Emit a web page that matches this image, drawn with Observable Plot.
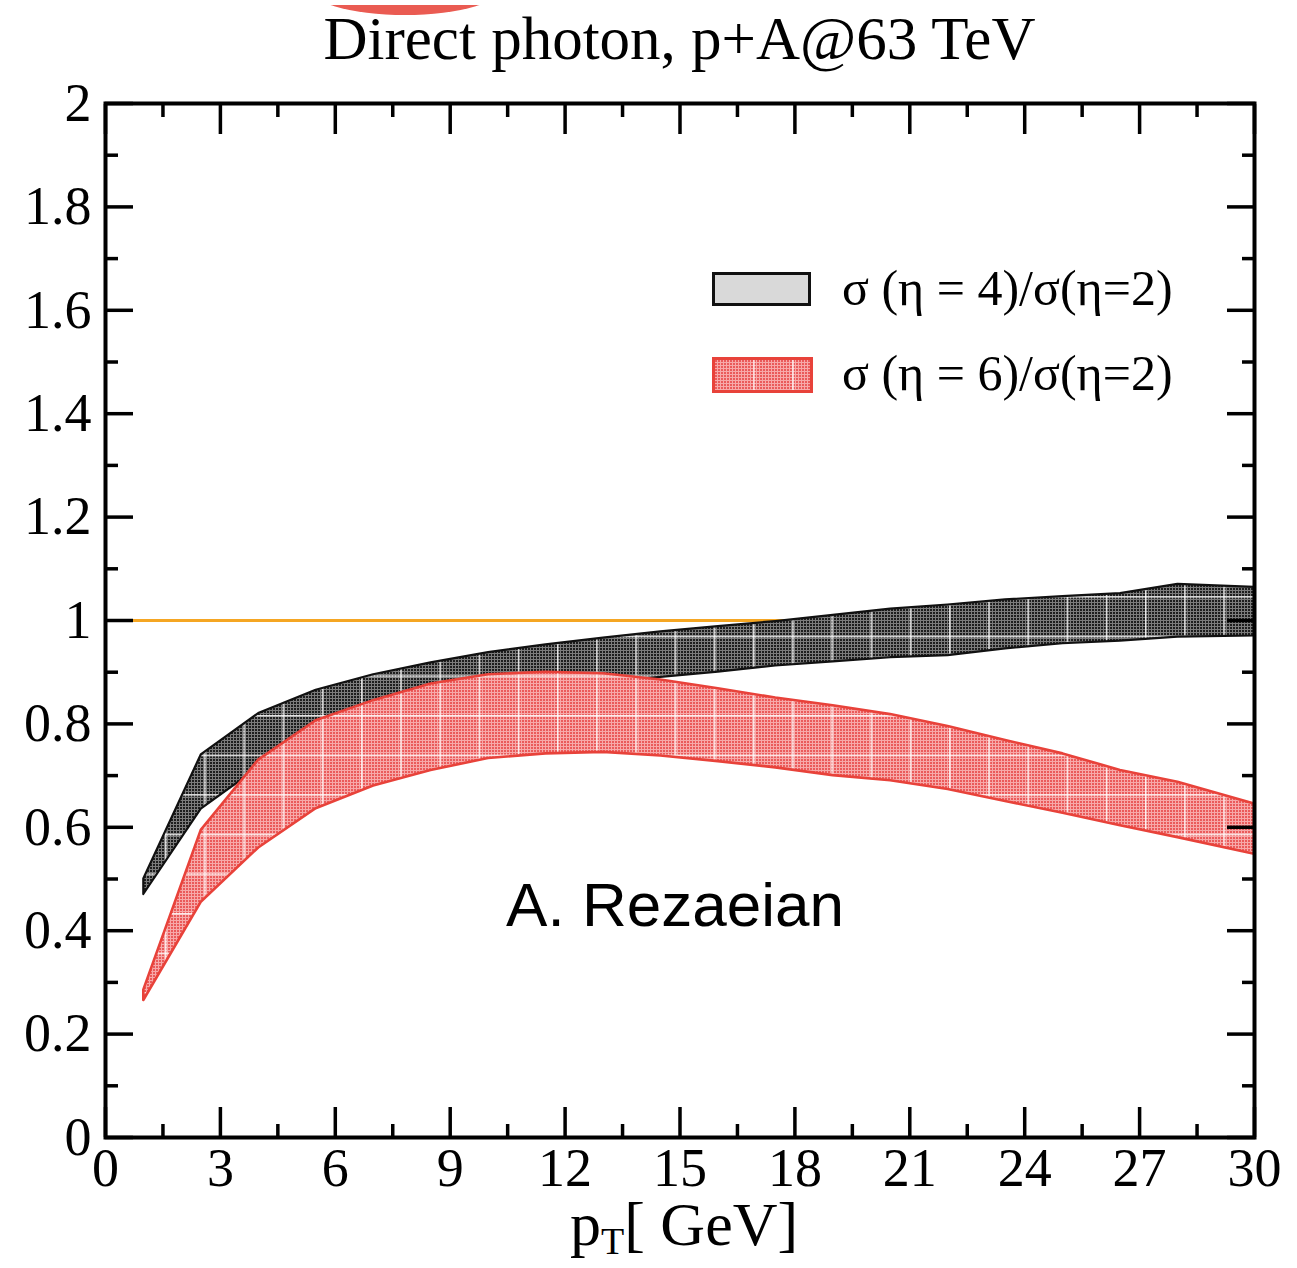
<!DOCTYPE html>
<html>
<head>
<meta charset="utf-8">
<script src="https://cdn.jsdelivr.net/npm/d3@7"></script>
<script src="https://cdn.jsdelivr.net/npm/@observablehq/plot@0.6"></script>
<style>
  html, body { margin: 0; padding: 0; background: #fff; }
  #wrap { position: relative; width: 1297px; height: 1268px; overflow: hidden; }
  #wrap svg.plot { position: absolute; left: 0; top: 0; }
  .serif { font-family: "Liberation Serif", "DejaVu Serif", serif; color: #000; }
  #title { position: absolute; left: 0; width: 1359px; top: 4px; text-align: center; font-size: 61px; line-height: 70px; white-space: nowrap; }
  #xlabel { position: absolute; left: 570px; top: 1195px; font-size: 62px; line-height: 58px; white-space: nowrap; }
  #xlabel sub { font-size: 38px; vertical-align: -9px; line-height: 0; }
  .leg { position: absolute; left: 712px; height: 40px; }
  .legtext { position: absolute; left: 842px; font-size: 50px; line-height: 50px; white-space: nowrap; }
  #arcClip { position: absolute; left: 305px; top: 5px; width: 200px; height: 10px; overflow: hidden; }
  #arc { position: absolute; left: 0; top: -50px; width: 200px; height: 60px; border-radius: 50%; background: #e8493f; opacity: 0.9; }
</style>
</head>
<body>
<div id="wrap">
  <div id="arcClip"><div id="arc"></div></div>
  <div id="title" class="serif"></div>
</div>
<script>
// ---- data ----
const pT      = [1, 2.5, 4, 5.5, 7, 8.5, 10, 11.5, 13, 14.5, 16, 17.5, 19, 20.5, 22, 23.5, 25, 26.5, 28, 30];
const eta4Hi  = [0.50, 0.74, 0.82, 0.865, 0.895, 0.918, 0.938, 0.953, 0.966, 0.978, 0.988, 0.998, 1.01, 1.022, 1.03, 1.04, 1.046, 1.052, 1.07, 1.064];
const eta4Lo  = [0.47, 0.635, 0.715, 0.78, 0.82, 0.845, 0.86, 0.87, 0.88, 0.89, 0.90, 0.912, 0.92, 0.928, 0.932, 0.945, 0.955, 0.96, 0.968, 0.97];
const eta6Hi  = [0.285, 0.594, 0.73, 0.806, 0.845, 0.877, 0.895, 0.90, 0.897, 0.885, 0.868, 0.85, 0.835, 0.818, 0.795, 0.768, 0.742, 0.71, 0.687, 0.645];
const eta6Lo  = [0.265, 0.455, 0.56, 0.636, 0.68, 0.71, 0.733, 0.742, 0.745, 0.738, 0.727, 0.715, 0.70, 0.69, 0.673, 0.65, 0.627, 0.603, 0.58, 0.548];
const refLine = [1];

const xMajor = [0, 3, 6, 9, 12, 15, 18, 21, 24, 27, 30];
const xMinor = [1.5, 4.5, 7.5, 10.5, 13.5, 16.5, 19.5, 22.5, 25.5, 28.5];
const yMajor = [0, 0.2, 0.4, 0.6, 0.8, 1, 1.2, 1.4, 1.6, 1.8, 2];
const yMinor = [0.1, 0.3, 0.5, 0.7, 0.9, 1.1, 1.3, 1.5, 1.7, 1.9];

const titleText = "Direct photon, p+A@63 TeV";
const legendLabels = ["σ (η = 4)/σ(η=2)", "σ (η = 6)/σ(η=2)"];
const authorText = ["A. Rezaeian"];
const authorPos = {x: 10.46, y: 0.447};

const band4 = pT.map((x, i) => ({x, lo: eta4Lo[i], hi: eta4Hi[i]}));
const band6 = pT.map((x, i) => ({x, lo: eta6Lo[i], hi: eta6Hi[i]}));

const serif = "Liberation Serif, DejaVu Serif, serif";
const fmtY = d => String(+d.toFixed(1));
const noText = () => "";

const chart = Plot.plot({
  width: 1297,
  height: 1268,
  marginLeft: 105,
  marginRight: 43,
  marginTop: 103,
  marginBottom: 131,
  style: {fontFamily: serif, fontSize: "54px", background: "transparent", overflow: "visible"},
  x: {domain: [0, 30], label: null},
  y: {domain: [0, 2], label: null},
  marks: [
    Plot.ruleY(refLine, {stroke: "#f5a623", strokeWidth: 3}),
    // eta=4 band
    Plot.areaY(band4, {x: "x", y1: "lo", y2: "hi", fill: "url(#dot4)"}),
    Plot.areaY(band4, {x: "x", y1: "lo", y2: "hi", fill: "url(#gridPat)"}),
    Plot.areaY(band4, {x: "x", y1: "lo", y2: "hi", fill: "none", stroke: "#111", strokeWidth: 2.2}),
    // eta=6 band
    Plot.areaY(band6, {x: "x", y1: "lo", y2: "hi", fill: "url(#dot6)"}),
    Plot.areaY(band6, {x: "x", y1: "lo", y2: "hi", fill: "url(#gridPat)"}),
    Plot.areaY(band6, {x: "x", y1: "lo", y2: "hi", fill: "none", stroke: "#e8423a", strokeWidth: 2.6}),
    // author text
    Plot.text(authorText, {x: () => authorPos.x, y: () => authorPos.y, text: d => d, textAnchor: "start",
      fontFamily: "Liberation Sans, Arial, sans-serif", fontSize: 62, fill: "#000"}),
    // ticks (inward) on all four sides
    Plot.axisX(xMajor, {anchor: "bottom", tickSize: -30, strokeWidth: 3.5, tickFormat: noText, label: null}),
    Plot.axisX(xMinor, {anchor: "bottom", tickSize: -13, strokeWidth: 3.5, tickFormat: noText, label: null}),
    Plot.axisX(xMajor, {anchor: "top", tickSize: -30, strokeWidth: 3.5, tickFormat: noText, label: null}),
    Plot.axisX(xMinor, {anchor: "top", tickSize: -13, strokeWidth: 3.5, tickFormat: noText, label: null}),
    Plot.axisY(yMajor, {anchor: "left", tickSize: -28, strokeWidth: 3.5, tickFormat: noText, label: null}),
    Plot.axisY(yMinor, {anchor: "left", tickSize: -13, strokeWidth: 3.5, tickFormat: noText, label: null}),
    Plot.axisY(yMajor, {anchor: "right", tickSize: -28, strokeWidth: 3.5, tickFormat: noText, label: null}),
    Plot.axisY(yMinor, {anchor: "right", tickSize: -13, strokeWidth: 3.5, tickFormat: noText, label: null}),
    // tick labels
    Plot.axisX(xMajor, {anchor: "bottom", tickSize: 0, tickPadding: 10, fontSize: 54, fontFamily: serif, label: null, tickFormat: d => String(d)}),
    Plot.axisY(yMajor, {anchor: "left", tickSize: 0, tickPadding: 14, fontSize: 54, fontFamily: serif, label: null, tickFormat: fmtY}),
    Plot.frame({stroke: "#000", strokeWidth: 4})
  ]
});
chart.classList.add("plot");

// patterns used by the bands
const defs = document.createElementNS("http://www.w3.org/2000/svg", "defs");
defs.innerHTML = `
  <pattern id="dot4" patternUnits="userSpaceOnUse" width="3" height="3">
    <rect width="3" height="3" fill="#7c7c7c"/>
    <rect width="2" height="2" fill="#1e1e1e"/>
  </pattern>
  <pattern id="dot6" patternUnits="userSpaceOnUse" width="3" height="3">
    <rect width="3" height="3" fill="#f7a9a9"/>
    <rect width="2" height="2" fill="#ea5b5b"/>
  </pattern>
  <pattern id="gridPat" patternUnits="userSpaceOnUse" x="8.2" y="2.2" width="39.2" height="39.6">
    <line x1="0.8" y1="0" x2="0.8" y2="39.6" stroke="#fff" stroke-width="1.5" stroke-opacity="0.85"/>
    <line x1="0" y1="0.8" x2="39.2" y2="0.8" stroke="#fff" stroke-width="1.5" stroke-opacity="0.85"/>
  </pattern>`;
chart.insertBefore(defs, chart.firstChild);

const wrap = document.getElementById("wrap");
wrap.appendChild(chart);

document.getElementById("title").textContent = titleText;

// x axis label with subscript
const xl = document.createElement("div");
xl.id = "xlabel"; xl.className = "serif";
xl.innerHTML = "p<sub>T</sub>[ GeV]";
wrap.appendChild(xl);

// legend (inside the frame, upper right)
const swatchTops = [272, 357];
const swatchSvgs = [
  `<svg width="100" height="36"><rect x="1.5" y="1.5" width="96" height="31" fill="#d9d9d9" stroke="#111" stroke-width="3"/></svg>`,
  `<svg width="102" height="38"><defs>
     <pattern id="ld6" patternUnits="userSpaceOnUse" width="3" height="3"><rect width="3" height="3" fill="#f7a9a9"/><rect width="2" height="2" fill="#ea5b5b"/></pattern>
   </defs>
   <rect x="1.5" y="1.5" width="98" height="33" fill="url(#ld6)" stroke="#e8423a" stroke-width="3"/>
   <line x1="42" y1="3" x2="42" y2="33" stroke="#fff" stroke-width="1.4" stroke-opacity="0.8"/>
   <line x1="81" y1="3" x2="81" y2="33" stroke="#fff" stroke-width="1.4" stroke-opacity="0.9"/></svg>`
];
legendLabels.forEach((lab, i) => {
  const sw = document.createElement("div");
  sw.className = "leg";
  sw.style.top = swatchTops[i] + "px";
  sw.innerHTML = swatchSvgs[i];
  wrap.appendChild(sw);
  const t = document.createElement("div");
  t.className = "legtext serif";
  t.style.top = (swatchTops[i] - 9) + "px";
  t.textContent = lab;
  wrap.appendChild(t);
});
</script>
</body>
</html>
